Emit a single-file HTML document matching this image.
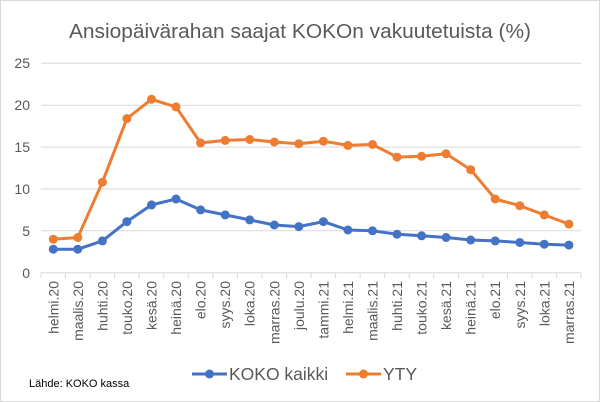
<!DOCTYPE html>
<html><head><meta charset="utf-8"><style>
html,body{margin:0;padding:0;background:#fff}
svg{display:block;font-family:"Liberation Sans",sans-serif}
</style></head><body>
<svg width="600" height="402" viewBox="0 0 600 402" xmlns="http://www.w3.org/2000/svg">
<rect x="0.5" y="0.5" width="599" height="401" fill="#fff" stroke="#d9d9d9"/>
<text x="300" y="38" text-anchor="middle" font-size="20.5" fill="#595959" textLength="462" lengthAdjust="spacingAndGlyphs">Ansiopäivärahan saajat KOKOn vakuutetuista (%)</text>
<g stroke="#d9d9d9" stroke-width="1">
<line x1="41" y1="63.3" x2="581" y2="63.3"/>
<line x1="41" y1="105.2" x2="581" y2="105.2"/>
<line x1="41" y1="147.1" x2="581" y2="147.1"/>
<line x1="41" y1="189" x2="581" y2="189"/>
<line x1="41" y1="230.8" x2="581" y2="230.8"/>
<line x1="41" y1="272.7" x2="581" y2="272.7"/>
</g>
<g stroke="#d9d9d9" stroke-width="1">
<line x1="41" y1="273" x2="41" y2="278"/><line x1="65.5" y1="273" x2="65.5" y2="278"/><line x1="90.1" y1="273" x2="90.1" y2="278"/><line x1="114.6" y1="273" x2="114.6" y2="278"/><line x1="139.2" y1="273" x2="139.2" y2="278"/><line x1="163.7" y1="273" x2="163.7" y2="278"/><line x1="188.3" y1="273" x2="188.3" y2="278"/><line x1="212.9" y1="273" x2="212.9" y2="278"/><line x1="237.4" y1="273" x2="237.4" y2="278"/><line x1="262" y1="273" x2="262" y2="278"/><line x1="286.5" y1="273" x2="286.5" y2="278"/><line x1="311.1" y1="273" x2="311.1" y2="278"/><line x1="335.6" y1="273" x2="335.6" y2="278"/><line x1="360.2" y1="273" x2="360.2" y2="278"/><line x1="384.7" y1="273" x2="384.7" y2="278"/><line x1="409.3" y1="273" x2="409.3" y2="278"/><line x1="433.8" y1="273" x2="433.8" y2="278"/><line x1="458.4" y1="273" x2="458.4" y2="278"/><line x1="483" y1="273" x2="483" y2="278"/><line x1="507.5" y1="273" x2="507.5" y2="278"/><line x1="532.1" y1="273" x2="532.1" y2="278"/><line x1="556.6" y1="273" x2="556.6" y2="278"/><line x1="581" y1="273" x2="581" y2="278"/>
</g>
<g font-size="14" fill="#595959" text-anchor="end">
<text x="30" y="68">25</text><text x="30" y="110">20</text><text x="30" y="152">15</text><text x="30" y="194">10</text><text x="30" y="236">5</text><text x="30" y="278">0</text>
</g>
<g font-size="14" fill="#595959" text-anchor="end">
<text transform="translate(58.3,281) rotate(-90)">helmi.20</text>
<text transform="translate(82.8,281) rotate(-90)">maalis.20</text>
<text transform="translate(107.4,281) rotate(-90)">huhti.20</text>
<text transform="translate(131.9,281) rotate(-90)">touko.20</text>
<text transform="translate(156.5,281) rotate(-90)">kesä.20</text>
<text transform="translate(181,281) rotate(-90)">heinä.20</text>
<text transform="translate(205.6,281) rotate(-90)">elo.20</text>
<text transform="translate(230.2,281) rotate(-90)">syys.20</text>
<text transform="translate(254.7,281) rotate(-90)">loka.20</text>
<text transform="translate(279.3,281) rotate(-90)">marras.20</text>
<text transform="translate(303.8,281) rotate(-90)">joulu.20</text>
<text transform="translate(328.4,281) rotate(-90)">tammi.21</text>
<text transform="translate(352.9,281) rotate(-90)">helmi.21</text>
<text transform="translate(377.5,281) rotate(-90)">maalis.21</text>
<text transform="translate(402,281) rotate(-90)">huhti.21</text>
<text transform="translate(426.6,281) rotate(-90)">touko.21</text>
<text transform="translate(451.1,281) rotate(-90)">kesä.21</text>
<text transform="translate(475.7,281) rotate(-90)">heinä.21</text>
<text transform="translate(500.2,281) rotate(-90)">elo.21</text>
<text transform="translate(524.8,281) rotate(-90)">syys.21</text>
<text transform="translate(549.3,281) rotate(-90)">loka.21</text>
<text transform="translate(573.9,281) rotate(-90)">marras.21</text>
</g>
<g id="koko">
<polyline fill="none" stroke="#4472c4" stroke-width="3" stroke-linejoin="round" points="53.3,249.2 77.8,249.2 102.4,240.9 126.9,221.6 151.5,204.9 176,199 200.6,209.9 225.2,214.9 249.7,219.9 274.3,225 298.8,226.6 323.4,221.6 347.9,230 372.5,230.8 397,234.2 421.6,235.8 446.1,237.5 470.7,240 495.2,240.9 519.8,242.5 544.3,244.2 568.9,245.1"/>
<g fill="#4472c4">
<circle cx="53.3" cy="249.2" r="4.5"/><circle cx="77.8" cy="249.2" r="4.5"/><circle cx="102.4" cy="240.9" r="4.5"/><circle cx="126.9" cy="221.6" r="4.5"/><circle cx="151.5" cy="204.9" r="4.5"/><circle cx="176" cy="199" r="4.5"/><circle cx="200.6" cy="209.9" r="4.5"/><circle cx="225.2" cy="214.9" r="4.5"/><circle cx="249.7" cy="219.9" r="4.5"/><circle cx="274.3" cy="225" r="4.5"/><circle cx="298.8" cy="226.6" r="4.5"/><circle cx="323.4" cy="221.6" r="4.5"/><circle cx="347.9" cy="230" r="4.5"/><circle cx="372.5" cy="230.8" r="4.5"/><circle cx="397" cy="234.2" r="4.5"/><circle cx="421.6" cy="235.8" r="4.5"/><circle cx="446.1" cy="237.5" r="4.5"/><circle cx="470.7" cy="240" r="4.5"/><circle cx="495.2" cy="240.9" r="4.5"/><circle cx="519.8" cy="242.5" r="4.5"/><circle cx="544.3" cy="244.2" r="4.5"/><circle cx="568.9" cy="245.1" r="4.5"/>
</g></g>
<g id="yty">
<polyline fill="none" stroke="#ed7d31" stroke-width="3" stroke-linejoin="round" points="53.3,239.2 77.8,237.5 102.4,182.2 126.9,118.6 151.5,99.3 176,106.9 200.6,142.9 225.2,140.4 249.7,139.5 274.3,142 298.8,143.7 323.4,141.2 347.9,145.4 372.5,144.5 397,157.1 421.6,156.3 446.1,153.8 470.7,169.7 495.2,199 519.8,205.7 544.3,214.9 568.9,224.1"/>
<g fill="#ed7d31">
<circle cx="53.3" cy="239.2" r="4.5"/><circle cx="77.8" cy="237.5" r="4.5"/><circle cx="102.4" cy="182.2" r="4.5"/><circle cx="126.9" cy="118.6" r="4.5"/><circle cx="151.5" cy="99.3" r="4.5"/><circle cx="176" cy="106.9" r="4.5"/><circle cx="200.6" cy="142.9" r="4.5"/><circle cx="225.2" cy="140.4" r="4.5"/><circle cx="249.7" cy="139.5" r="4.5"/><circle cx="274.3" cy="142" r="4.5"/><circle cx="298.8" cy="143.7" r="4.5"/><circle cx="323.4" cy="141.2" r="4.5"/><circle cx="347.9" cy="145.4" r="4.5"/><circle cx="372.5" cy="144.5" r="4.5"/><circle cx="397" cy="157.1" r="4.5"/><circle cx="421.6" cy="156.3" r="4.5"/><circle cx="446.1" cy="153.8" r="4.5"/><circle cx="470.7" cy="169.7" r="4.5"/><circle cx="495.2" cy="199" r="4.5"/><circle cx="519.8" cy="205.7" r="4.5"/><circle cx="544.3" cy="214.9" r="4.5"/><circle cx="568.9" cy="224.1" r="4.5"/>
</g></g>
<line x1="192" y1="374" x2="227" y2="374" stroke="#4472c4" stroke-width="3"/>
<circle cx="209.5" cy="374" r="4.5" fill="#4472c4"/>
<text x="229" y="380" font-size="17.5" fill="#595959">KOKO kaikki</text>
<line x1="346" y1="374" x2="381" y2="374" stroke="#ed7d31" stroke-width="3"/>
<circle cx="363.5" cy="374" r="4.5" fill="#ed7d31"/>
<text x="383" y="380" font-size="17.5" fill="#595959">YTY</text>
<text x="29" y="387" font-size="11" fill="#000">Lähde: KOKO kassa</text>
</svg>
</body></html>
